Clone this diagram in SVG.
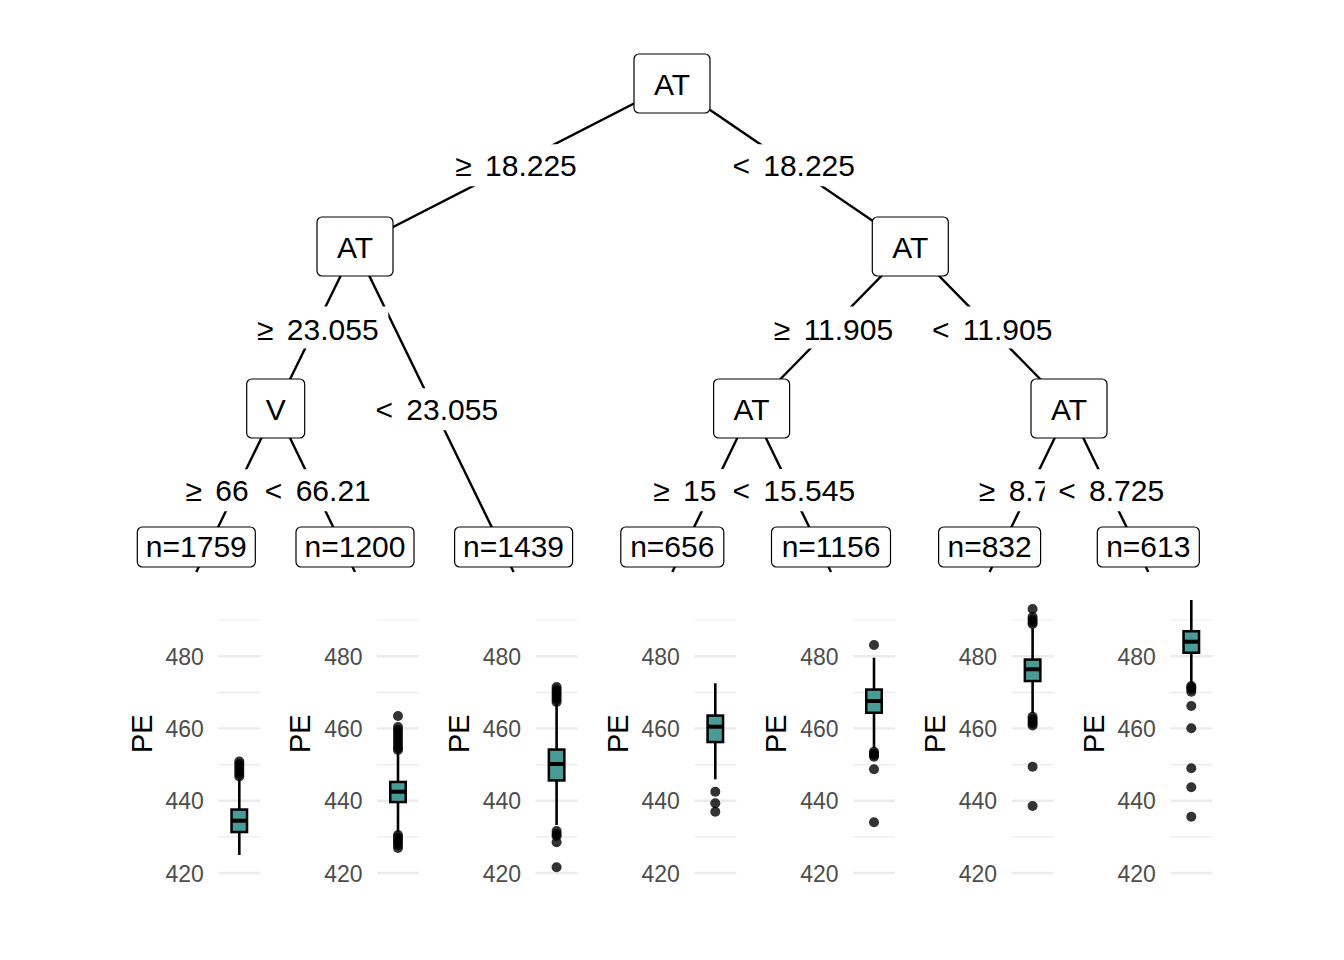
<svg xmlns="http://www.w3.org/2000/svg" width="1344" height="960" viewBox="0 0 1344 960">
<style>
.edge{stroke:#000;stroke-width:2.4;fill:none}
.lblbg{fill:#fff}
.lbl{font-family:"Liberation Sans",Arial,sans-serif;font-size:30px;text-anchor:middle;word-spacing:5px;fill:#000}
.lbl.s{text-anchor:start}
.node rect{fill:#fff;stroke:#000;stroke-width:1.2}
.node text{font-family:"Liberation Sans",Arial,sans-serif;font-size:30px;text-anchor:middle;fill:#000}
.gmaj{stroke:#EBEBEB;stroke-width:2.4}
.gmin{stroke:#EBEBEB;stroke-width:1.2}
.tick{font-family:"Liberation Sans",Arial,sans-serif;font-size:23px;fill:#4D4D4D;text-anchor:end}
.ytitle{font-family:"Liberation Sans",Arial,sans-serif;font-size:29px;fill:#000;text-anchor:middle}
.box{fill:#4A9A96;stroke:#000;stroke-width:2.5}
.med{stroke:#000;stroke-width:4}
.whisk{stroke:#000;stroke-width:2.6}
.out{fill:#000;fill-opacity:0.8}
</style>
<rect x="0" y="0" width="1344" height="960" fill="#fff"/>
<g id="connectors">
<line class="edge" x1="672" y1="84" x2="355" y2="246.5"/>
<line class="edge" x1="672" y1="84" x2="910.3" y2="246.5"/>
<line class="edge" x1="355" y1="246.5" x2="275.7" y2="408.5"/>
<line class="edge" x1="355" y1="246.5" x2="513.6" y2="572"/>
<line class="edge" x1="910.3" y1="246.5" x2="751.6" y2="408.5"/>
<line class="edge" x1="910.3" y1="246.5" x2="1069" y2="408.5"/>
<line class="edge" x1="275.7" y1="408.5" x2="196.3" y2="572"/>
<line class="edge" x1="275.7" y1="408.5" x2="355" y2="572"/>
<line class="edge" x1="751.6" y1="408.5" x2="672.3" y2="572"/>
<line class="edge" x1="751.6" y1="408.5" x2="831" y2="572"/>
<line class="edge" x1="1069" y1="408.5" x2="989.6" y2="572"/>
<line class="edge" x1="1069" y1="408.5" x2="1148.3" y2="572"/>
</g>
<g id="edge-labels" style="white-space:pre">
<rect class="lblbg" x="440.5" y="144.25" width="146" height="42"/><text class="lbl" x="516" y="176">≥ 18.225</text>
<rect class="lblbg" x="718.2" y="144.25" width="146" height="42"/><text class="lbl" x="793.7" y="176">&lt; 18.225</text>
<rect class="lblbg" x="242.3" y="306.5" width="146" height="42"/><text class="lbl" x="317.8" y="339.5">≥ 23.055</text>
<rect class="lblbg" x="361.3" y="388.25" width="146" height="42"/><text class="lbl" x="436.8" y="420">&lt; 23.055</text>
<rect class="lblbg" x="758" y="306.5" width="146" height="42"/><text class="lbl" x="833.5" y="339.5">≥ 11.905</text>
<rect class="lblbg" x="916.7" y="306.5" width="146" height="42"/><text class="lbl" x="992.2" y="339.5">&lt; 11.905</text>
<rect class="lblbg" x="172" y="469.25" width="128" height="42"/><text class="lbl s" x="185.55" y="501">≥ 66</text>
<rect class="lblbg" x="251.3" y="469.25" width="128" height="42"/><text class="lbl" x="317.8" y="501">&lt; 66.21</text>
<rect class="lblbg" x="639" y="469.25" width="146" height="42"/><text class="lbl s" x="653.2" y="501">≥ 15</text>
<rect class="lblbg" x="718.3" y="469.25" width="146" height="42"/><text class="lbl" x="793.8" y="501">&lt; 15.545</text>
<rect class="lblbg" x="965.3" y="469.25" width="128" height="42"/><text class="lbl s" x="978.85" y="501">≥ 8.7</text>
<rect class="lblbg" x="1044.7" y="469.25" width="128" height="42"/><text class="lbl" x="1111.2" y="501">&lt; 8.725</text>
</g>
<g id="node-1" class="node"><rect x="634" y="54" width="76" height="59" rx="5"/><text x="672" y="95">AT</text></g>
<g id="node-2" class="node"><rect x="317" y="217" width="76" height="59" rx="5"/><text x="355" y="258">AT</text></g>
<g id="node-9" class="node"><rect x="872.3" y="217" width="76" height="59" rx="5"/><text x="910.3" y="258">AT</text></g>
<g id="node-3" class="node"><rect x="246.7" y="379" width="58" height="59" rx="5"/><text x="275.7" y="420">V</text></g>
<g id="node-10" class="node"><rect x="713.6" y="379" width="76" height="59" rx="5"/><text x="751.6" y="420">AT</text></g>
<g id="node-13" class="node"><rect x="1031" y="379" width="76" height="59" rx="5"/><text x="1069" y="420">AT</text></g>
<g id="leaf-4" class="node"><rect x="137.3" y="527" width="118" height="40" rx="5"/><text x="196.3" y="557">n=1759</text></g>
<g id="leaf-5" class="node"><rect x="296" y="527" width="118" height="40" rx="5"/><text x="355" y="557">n=1200</text></g>
<g id="leaf-6" class="node"><rect x="454.6" y="527" width="118" height="40" rx="5"/><text x="513.6" y="557">n=1439</text></g>
<g id="leaf-11" class="node"><rect x="620.8" y="527" width="103" height="40" rx="5"/><text x="672.3" y="557">n=656</text></g>
<g id="leaf-12" class="node"><rect x="771.5" y="527" width="119" height="40" rx="5"/><text x="831" y="557">n=1156</text></g>
<g id="leaf-14" class="node"><rect x="938.6" y="527" width="102" height="40" rx="5"/><text x="989.6" y="557">n=832</text></g>
<g id="leaf-15" class="node"><rect x="1097.3" y="527" width="102" height="40" rx="5"/><text x="1148.3" y="557">n=613</text></g>

<g id="panel-1">
<line class="gmin" x1="218.3" y1="620" x2="260.3" y2="620"/><line class="gmin" x1="218.3" y1="692.3" x2="260.3" y2="692.3"/><line class="gmin" x1="218.3" y1="764.6" x2="260.3" y2="764.6"/><line class="gmin" x1="218.3" y1="836.9" x2="260.3" y2="836.9"/>
<line class="gmaj" x1="218.3" y1="656.2" x2="260.3" y2="656.2"/><line class="gmaj" x1="218.3" y1="728.4" x2="260.3" y2="728.4"/><line class="gmaj" x1="218.3" y1="800.7" x2="260.3" y2="800.7"/><line class="gmaj" x1="218.3" y1="873" x2="260.3" y2="873"/>
<text class="tick" x="203.8" y="664.7">480</text><text class="tick" x="203.8" y="736.9">460</text><text class="tick" x="203.8" y="809.2">440</text><text class="tick" x="203.8" y="881.5">420</text>
<text class="ytitle" transform="translate(151.7,733.7) rotate(-90)">PE</text>
<line class="whisk" x1="239.3" y1="779" x2="239.3" y2="855"/>
<rect class="box" x="231.55" y="809.55" width="15.5" height="22.5"/>
<line class="med" x1="231.55" y1="820.7" x2="247.05" y2="820.7"/>
<circle class="out" cx="239.3" cy="761.5" r="5"/><circle class="out" cx="239.3" cy="764" r="5"/><circle class="out" cx="239.3" cy="766.5" r="5"/><circle class="out" cx="239.3" cy="769" r="5"/><circle class="out" cx="239.3" cy="771.5" r="5"/><circle class="out" cx="239.3" cy="774" r="5"/><circle class="out" cx="239.3" cy="776.5" r="5"/>
</g>

<g id="panel-2">
<line class="gmin" x1="377" y1="620" x2="419" y2="620"/><line class="gmin" x1="377" y1="692.3" x2="419" y2="692.3"/><line class="gmin" x1="377" y1="764.6" x2="419" y2="764.6"/><line class="gmin" x1="377" y1="836.9" x2="419" y2="836.9"/>
<line class="gmaj" x1="377" y1="656.2" x2="419" y2="656.2"/><line class="gmaj" x1="377" y1="728.4" x2="419" y2="728.4"/><line class="gmaj" x1="377" y1="800.7" x2="419" y2="800.7"/><line class="gmaj" x1="377" y1="873" x2="419" y2="873"/>
<text class="tick" x="362.5" y="664.7">480</text><text class="tick" x="362.5" y="736.9">460</text><text class="tick" x="362.5" y="809.2">440</text><text class="tick" x="362.5" y="881.5">420</text>
<text class="ytitle" transform="translate(310.4,733.7) rotate(-90)">PE</text>
<line class="whisk" x1="398" y1="752" x2="398" y2="832"/>
<rect class="box" x="390.25" y="781.95" width="15.5" height="20.1"/>
<line class="med" x1="390.25" y1="791.7" x2="405.75" y2="791.7"/>
<circle class="out" cx="398" cy="716" r="5"/>
<circle class="out" cx="398" cy="727" r="5"/><circle class="out" cx="398" cy="730" r="5"/><circle class="out" cx="398" cy="733" r="5"/><circle class="out" cx="398" cy="736" r="5"/><circle class="out" cx="398" cy="739" r="5"/><circle class="out" cx="398" cy="742" r="5"/><circle class="out" cx="398" cy="745" r="5"/><circle class="out" cx="398" cy="748" r="5"/><circle class="out" cx="398" cy="750" r="5"/>
<circle class="out" cx="398" cy="835" r="5"/><circle class="out" cx="398" cy="837.5" r="5"/><circle class="out" cx="398" cy="840" r="5"/><circle class="out" cx="398" cy="842.5" r="5"/><circle class="out" cx="398" cy="845" r="5"/><circle class="out" cx="398" cy="848" r="5"/>
</g>

<g id="panel-3">
<line class="gmin" x1="535.6" y1="620" x2="577.6" y2="620"/><line class="gmin" x1="535.6" y1="692.3" x2="577.6" y2="692.3"/><line class="gmin" x1="535.6" y1="764.6" x2="577.6" y2="764.6"/><line class="gmin" x1="535.6" y1="836.9" x2="577.6" y2="836.9"/>
<line class="gmaj" x1="535.6" y1="656.2" x2="577.6" y2="656.2"/><line class="gmaj" x1="535.6" y1="728.4" x2="577.6" y2="728.4"/><line class="gmaj" x1="535.6" y1="800.7" x2="577.6" y2="800.7"/><line class="gmaj" x1="535.6" y1="873" x2="577.6" y2="873"/>
<text class="tick" x="521.1" y="664.7">480</text><text class="tick" x="521.1" y="736.9">460</text><text class="tick" x="521.1" y="809.2">440</text><text class="tick" x="521.1" y="881.5">420</text>
<text class="ytitle" transform="translate(469,733.7) rotate(-90)">PE</text>
<line class="whisk" x1="556.6" y1="704" x2="556.6" y2="825"/>
<rect class="box" x="548.85" y="749.55" width="15.5" height="30.9"/>
<line class="med" x1="548.85" y1="764" x2="564.35" y2="764"/>
<circle class="out" cx="556.6" cy="687" r="5"/><circle class="out" cx="556.6" cy="689.5" r="5"/><circle class="out" cx="556.6" cy="692" r="5"/><circle class="out" cx="556.6" cy="694.5" r="5"/><circle class="out" cx="556.6" cy="697" r="5"/><circle class="out" cx="556.6" cy="699.5" r="5"/><circle class="out" cx="556.6" cy="702" r="5"/>
<circle class="out" cx="556.6" cy="831" r="5"/><circle class="out" cx="556.6" cy="834" r="5"/><circle class="out" cx="556.6" cy="836" r="5"/><circle class="out" cx="556.6" cy="842.3" r="5"/><circle class="out" cx="556.6" cy="867.3" r="5"/>
</g>

<g id="panel-4">
<line class="gmin" x1="694.3" y1="620" x2="736.3" y2="620"/><line class="gmin" x1="694.3" y1="692.3" x2="736.3" y2="692.3"/><line class="gmin" x1="694.3" y1="764.6" x2="736.3" y2="764.6"/><line class="gmin" x1="694.3" y1="836.9" x2="736.3" y2="836.9"/>
<line class="gmaj" x1="694.3" y1="656.2" x2="736.3" y2="656.2"/><line class="gmaj" x1="694.3" y1="728.4" x2="736.3" y2="728.4"/><line class="gmaj" x1="694.3" y1="800.7" x2="736.3" y2="800.7"/><line class="gmaj" x1="694.3" y1="873" x2="736.3" y2="873"/>
<text class="tick" x="679.8" y="664.7">480</text><text class="tick" x="679.8" y="736.9">460</text><text class="tick" x="679.8" y="809.2">440</text><text class="tick" x="679.8" y="881.5">420</text>
<text class="ytitle" transform="translate(627.7,733.7) rotate(-90)">PE</text>
<line class="whisk" x1="715.3" y1="683.3" x2="715.3" y2="779.3"/>
<rect class="box" x="707.55" y="715.55" width="15.5" height="26.5"/>
<line class="med" x1="707.55" y1="726.7" x2="723.05" y2="726.7"/>
<circle class="out" cx="715.3" cy="791.7" r="5"/><circle class="out" cx="715.3" cy="803.3" r="5"/><circle class="out" cx="715.3" cy="811.7" r="5"/>
</g>

<g id="panel-5">
<line class="gmin" x1="853" y1="620" x2="895" y2="620"/><line class="gmin" x1="853" y1="692.3" x2="895" y2="692.3"/><line class="gmin" x1="853" y1="764.6" x2="895" y2="764.6"/><line class="gmin" x1="853" y1="836.9" x2="895" y2="836.9"/>
<line class="gmaj" x1="853" y1="656.2" x2="895" y2="656.2"/><line class="gmaj" x1="853" y1="728.4" x2="895" y2="728.4"/><line class="gmaj" x1="853" y1="800.7" x2="895" y2="800.7"/><line class="gmaj" x1="853" y1="873" x2="895" y2="873"/>
<text class="tick" x="838.5" y="664.7">480</text><text class="tick" x="838.5" y="736.9">460</text><text class="tick" x="838.5" y="809.2">440</text><text class="tick" x="838.5" y="881.5">420</text>
<text class="ytitle" transform="translate(786.4,733.7) rotate(-90)">PE</text>
<line class="whisk" x1="874" y1="657.7" x2="874" y2="748"/>
<rect class="box" x="866.25" y="689.55" width="15.5" height="23.2"/>
<line class="med" x1="866.25" y1="701" x2="881.75" y2="701"/>
<circle class="out" cx="874" cy="645" r="5"/>
<circle class="out" cx="874" cy="751.7" r="5"/><circle class="out" cx="874" cy="753.5" r="5"/><circle class="out" cx="874" cy="755" r="5"/><circle class="out" cx="874" cy="756.7" r="5"/>
<circle class="out" cx="874" cy="769.3" r="5"/><circle class="out" cx="874" cy="822.3" r="5"/>
</g>

<g id="panel-6">
<line class="gmin" x1="1011.6" y1="620" x2="1053.6" y2="620"/><line class="gmin" x1="1011.6" y1="692.3" x2="1053.6" y2="692.3"/><line class="gmin" x1="1011.6" y1="764.6" x2="1053.6" y2="764.6"/><line class="gmin" x1="1011.6" y1="836.9" x2="1053.6" y2="836.9"/>
<line class="gmaj" x1="1011.6" y1="656.2" x2="1053.6" y2="656.2"/><line class="gmaj" x1="1011.6" y1="728.4" x2="1053.6" y2="728.4"/><line class="gmaj" x1="1011.6" y1="800.7" x2="1053.6" y2="800.7"/><line class="gmaj" x1="1011.6" y1="873" x2="1053.6" y2="873"/>
<text class="tick" x="997.1" y="664.7">480</text><text class="tick" x="997.1" y="736.9">460</text><text class="tick" x="997.1" y="809.2">440</text><text class="tick" x="997.1" y="881.5">420</text>
<text class="ytitle" transform="translate(945,733.7) rotate(-90)">PE</text>
<line class="whisk" x1="1032.6" y1="628" x2="1032.6" y2="713"/>
<rect class="box" x="1024.85" y="659.55" width="15.5" height="21.5"/>
<line class="med" x1="1024.85" y1="669.3" x2="1040.35" y2="669.3"/>
<circle class="out" cx="1032.6" cy="609" r="5"/>
<circle class="out" cx="1032.6" cy="617" r="5"/><circle class="out" cx="1032.6" cy="619.5" r="5"/><circle class="out" cx="1032.6" cy="622" r="5"/><circle class="out" cx="1032.6" cy="624" r="5"/>
<circle class="out" cx="1032.6" cy="716.7" r="5"/><circle class="out" cx="1032.6" cy="719" r="5"/><circle class="out" cx="1032.6" cy="721.5" r="5"/><circle class="out" cx="1032.6" cy="723.5" r="5"/><circle class="out" cx="1032.6" cy="725.5" r="5"/>
<circle class="out" cx="1032.6" cy="766.7" r="5"/><circle class="out" cx="1032.6" cy="806" r="5"/>
</g>

<g id="panel-7">
<line class="gmin" x1="1170.3" y1="620" x2="1212.3" y2="620"/><line class="gmin" x1="1170.3" y1="692.3" x2="1212.3" y2="692.3"/><line class="gmin" x1="1170.3" y1="764.6" x2="1212.3" y2="764.6"/><line class="gmin" x1="1170.3" y1="836.9" x2="1212.3" y2="836.9"/>
<line class="gmaj" x1="1170.3" y1="656.2" x2="1212.3" y2="656.2"/><line class="gmaj" x1="1170.3" y1="728.4" x2="1212.3" y2="728.4"/><line class="gmaj" x1="1170.3" y1="800.7" x2="1212.3" y2="800.7"/><line class="gmaj" x1="1170.3" y1="873" x2="1212.3" y2="873"/>
<text class="tick" x="1155.8" y="664.7">480</text><text class="tick" x="1155.8" y="736.9">460</text><text class="tick" x="1155.8" y="809.2">440</text><text class="tick" x="1155.8" y="881.5">420</text>
<text class="ytitle" transform="translate(1103.7,733.7) rotate(-90)">PE</text>
<line class="whisk" x1="1191.3" y1="600" x2="1191.3" y2="686"/>
<rect class="box" x="1183.55" y="631.25" width="15.5" height="21.5"/>
<line class="med" x1="1183.55" y1="641.7" x2="1199.05" y2="641.7"/>
<circle class="out" cx="1191.3" cy="686" r="5"/><circle class="out" cx="1191.3" cy="687.5" r="5"/><circle class="out" cx="1191.3" cy="689" r="5"/><circle class="out" cx="1191.3" cy="691.7" r="5"/>
<circle class="out" cx="1191.3" cy="706" r="5"/><circle class="out" cx="1191.3" cy="728.3" r="5"/><circle class="out" cx="1191.3" cy="768.3" r="5"/><circle class="out" cx="1191.3" cy="787.3" r="5"/><circle class="out" cx="1191.3" cy="816.7" r="5"/>
</g>
</svg>
